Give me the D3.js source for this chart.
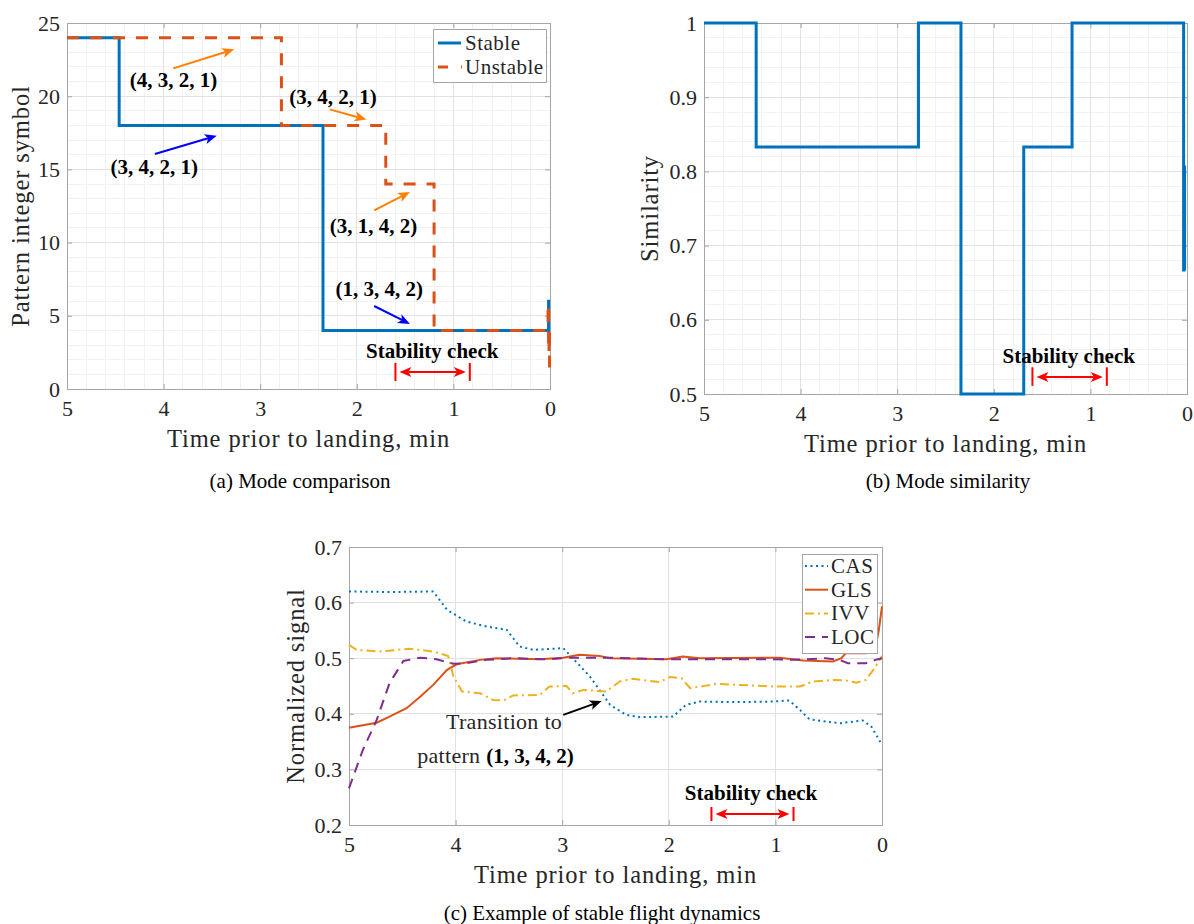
<!DOCTYPE html>
<html>
<head>
<meta charset="utf-8">
<title>Mode comparison</title>
<script src="https://d3js.org/d3.v7.min.js"></script>
<style>
  body { margin: 0; background: #fff; }
  svg text { font-family: "Liberation Serif", "Times New Roman", serif; fill: #262626; }
  .tick text { font-size: 22px; fill: #262626; }
  .lbl { font-size: 24.5px; letter-spacing: 0.9px; }
  .cap { font-size: 21px; fill: #000; }
  .bold { font-weight: bold; font-size: 21px; fill: #000; }
  .leg { font-size: 21px; letter-spacing: 0.5px; }
</style>
</head>
<body>
<script>
// ---------- data ----------
var timeTicks = [5, 4, 3, 2, 1, 0];
var patternTicks = [0, 5, 10, 15, 20, 25];
var simTicks = [0.5, 0.6, 0.7, 0.8, 0.9, 1];
var signalTicks = [0.2, 0.3, 0.4, 0.5, 0.6, 0.7];

// (a) pattern integer symbol, step changes (time prior to landing, min)
var stableT = [5, 4.46, 2.35, 0.015, 0];
var stableV = [24, 18, 4, 6, 6];
var unstableT = [5, 2.78, 1.70, 1.20, 0.02, 0.015, 0.01, 0.005];
var unstableV = [24, 18, 14, 4, 5.8, 2.5, 4, 1];

// (b) similarity
var simT = [5, 4.46, 2.78, 2.34, 1.69, 1.19, 0.035, 0.03, 0.025];
var simV = [1, 0.833, 1, 0.5, 0.833, 1, 0.667, 0.806, 0.667];

// (c) normalized signals
var casT = [5, 4.6, 4.21, 4.08, 3.90, 3.71, 3.52, 3.40, 3.27, 2.99, 2.93, 2.74, 2.55, 2.40, 2.27, 1.96, 1.84, 1.71, 1.40, 1.02, 0.87, 0.77, 0.68, 0.40, 0.18, 0.10, 0];
var casV = [0.62, 0.619, 0.62, 0.587, 0.566, 0.557, 0.551, 0.521, 0.515, 0.518, 0.506, 0.467, 0.416, 0.398, 0.394, 0.395, 0.416, 0.422, 0.421, 0.422, 0.424, 0.407, 0.390, 0.383, 0.388, 0.377, 0.344];
var glsT = [5, 4.74, 4.62, 4.46, 4.33, 4.21, 4.08, 3.99, 3.77, 3.62, 3.21, 2.99, 2.84, 2.65, 2.55, 2.02, 1.87, 1.71, 0.96, 0.74, 0.46, 0.38, 0.34, 0.15, 0.07, 0.03, 0];
var glsV = [0.375, 0.384, 0.395, 0.410, 0.431, 0.452, 0.479, 0.489, 0.497, 0.500, 0.498, 0.501, 0.506, 0.504, 0.500, 0.498, 0.503, 0.500, 0.501, 0.496, 0.494, 0.500, 0.509, 0.509, 0.512, 0.55, 0.593];
var ivvT = [5, 4.93, 4.72, 4.43, 4.21, 4.07, 4.02, 3.94, 3.77, 3.65, 3.55, 3.46, 3.21, 3.12, 2.96, 2.90, 2.80, 2.59, 2.46, 2.34, 2.09, 1.99, 1.88, 1.80, 1.55, 1.24, 0.99, 0.77, 0.65, 0.46, 0.34, 0.24, 0.15, 0.07, 0];
var ivvV = [0.524, 0.515, 0.512, 0.517, 0.512, 0.504, 0.467, 0.440, 0.437, 0.425, 0.424, 0.433, 0.434, 0.449, 0.450, 0.437, 0.443, 0.440, 0.458, 0.463, 0.457, 0.466, 0.464, 0.446, 0.454, 0.451, 0.449, 0.449, 0.458, 0.461, 0.460, 0.456, 0.461, 0.482, 0.504];
var locT = [5, 4.87, 4.74, 4.62, 4.49, 4.33, 4.18, 4.02, 3.90, 3.71, 3.46, 3.15, 2.93, 2.55, 2.02, 1.71, 1.02, 0.84, 0.53, 0.40, 0.32, 0.15, 0.06, 0];
var locV = [0.266, 0.335, 0.389, 0.455, 0.495, 0.501, 0.498, 0.490, 0.491, 0.497, 0.500, 0.498, 0.501, 0.501, 0.498, 0.498, 0.498, 0.497, 0.500, 0.497, 0.491, 0.491, 0.497, 0.500];

var stabilityWindow = [1.6, 0.83];

var blue = "#0072BD", orange = "#D95319", yellow = "#EDB120", purple = "#7E2F8E";

function zip(t, v) { return t.map(function(d, i) { return [d, v[i]]; }); }

var svg = d3.select("body").append("svg")
    .attr("width", 1194)
    .attr("height", 924);

// arrow with MATLAB-like 'vback2' heads
function arrow(g, x1, y1, x2, y2, color, both) {
    var a = Math.atan2(y2 - y1, x2 - x1), L = 12, W = 5, N = 3;
    function head(px, py, ang) {
        var c = Math.cos(ang), s = Math.sin(ang);
        var bx = px - L * c, by = py - L * s;
        return "M" + px + "," + py +
            "L" + (bx - W * s) + "," + (by + W * c) +
            "L" + (px - (L - N) * c) + "," + (py - (L - N) * s) +
            "L" + (bx + W * s) + "," + (by - W * c) + "Z";
    }
    var sx = both ? x1 + (L - N) * Math.cos(a) : x1, sy = both ? y1 + (L - N) * Math.sin(a) : y1;
    g.append("line")
        .attr("x1", sx).attr("y1", sy)
        .attr("x2", x2 - (L - N) * Math.cos(a)).attr("y2", y2 - (L - N) * Math.sin(a))
        .attr("stroke", color).attr("stroke-width", 2);
    g.append("path").attr("d", head(x2, y2, a)).attr("fill", color);
    if (both) g.append("path").attr("d", head(x1, y1, a + Math.PI)).attr("fill", color);
}

function panel(o) {
    var g = svg.append("g");
    var x = d3.scaleLinear().domain([5, 0]).range([o.left, o.right]);
    var y = d3.scaleLinear().domain(o.yDomain).range([o.bottom, o.top]);

    if (o.minor) {
        g.append("g").selectAll("line").data(d3.range(0, 5.01, 0.2)).enter().append("line")
            .attr("x1", function(d) { return x(d); }).attr("x2", function(d) { return x(d); })
            .attr("y1", o.top).attr("y2", o.bottom)
            .attr("stroke", "#f2f2f2").attr("shape-rendering", "crispEdges");
        g.append("g").selectAll("line").data(o.yMinor).enter().append("line")
            .attr("y1", function(d) { return y(d); }).attr("y2", function(d) { return y(d); })
            .attr("x1", o.left).attr("x2", o.right)
            .attr("stroke", "#f2f2f2").attr("shape-rendering", "crispEdges");
    }
    g.append("g").selectAll("line").data(timeTicks).enter().append("line")
        .attr("x1", function(d) { return x(d); }).attr("x2", function(d) { return x(d); })
        .attr("y1", o.top).attr("y2", o.bottom)
        .attr("stroke", "#e2e2e2").attr("shape-rendering", "crispEdges");
    g.append("g").selectAll("line").data(o.yTicks).enter().append("line")
        .attr("y1", function(d) { return y(d); }).attr("y2", function(d) { return y(d); })
        .attr("x1", o.left).attr("x2", o.right)
        .attr("stroke", "#e2e2e2").attr("shape-rendering", "crispEdges");

    var ax = g.append("g").attr("class", "axes");
    ax.append("g").attr("transform", "translate(0," + o.bottom + ")")
        .call(d3.axisBottom(x).tickValues(timeTicks).tickSize(-5).tickSizeOuter(0).tickPadding(11).tickFormat(d3.format("d")));
    ax.append("g").attr("transform", "translate(0," + o.top + ")")
        .call(d3.axisTop(x).tickValues(timeTicks).tickSize(-5).tickSizeOuter(0).tickFormat(""));
    ax.append("g").attr("transform", "translate(" + o.left + ",0)")
        .call(d3.axisLeft(y).tickValues(o.yTicks).tickSize(-5).tickSizeOuter(0).tickPadding(7)
            .tickFormat(function(d) { return String(d); }));
    ax.append("g").attr("transform", "translate(" + o.right + ",0)")
        .call(d3.axisRight(y).tickValues(o.yTicks).tickSize(-5).tickSizeOuter(0).tickFormat(""));
    ax.selectAll(".domain").remove();
    ax.selectAll(".tick line").attr("stroke", "#a6a6a6");

    g.append("rect")
        .attr("x", o.left).attr("y", o.top)
        .attr("width", o.right - o.left).attr("height", o.bottom - o.top)
        .attr("fill", "none").attr("stroke", "#a6a6a6").attr("shape-rendering", "crispEdges");

    g.append("text").attr("class", "lbl")
        .attr("x", (o.left + o.right) / 2).attr("y", o.bottom + 58)
        .attr("text-anchor", "middle").text("Time prior to landing, min");
    g.append("text").attr("class", "lbl")
        .attr("transform", "translate(" + o.yLabelX + "," + (o.top + o.bottom) / 2 + ") rotate(-90)")
        .attr("dy", "0.3em")
        .attr("text-anchor", "middle").text(o.yLabel);
    g.append("text").attr("class", "cap")
        .attr("x", o.capX).attr("y", o.capY)
        .attr("text-anchor", "middle").text(o.caption);

    return { g: g, x: x, y: y };
}

function stability(p, textT, textV, arrowV, barLo, barHi) {
    var g = p.g.append("g");
    g.append("text").attr("class", "bold")
        .attr("x", p.x(textT)).attr("y", p.y(textV)).text("Stability check");
    arrow(g, p.x(stabilityWindow[0]) + 4, p.y(arrowV), p.x(stabilityWindow[1]) - 4, p.y(arrowV), "#ff0000", true);
    stabilityWindow.forEach(function(t) {
        g.append("line")
            .attr("x1", p.x(t)).attr("x2", p.x(t))
            .attr("y1", p.y(barLo)).attr("y2", p.y(barHi))
            .attr("stroke", "#ff0000").attr("stroke-width", 2);
    });
}

// ---------- (a) Mode comparison ----------
var pa = panel({
    left: 67, right: 550, top: 23, bottom: 389,
    yDomain: [0, 25], yTicks: patternTicks, yMinor: d3.range(0, 25.1, 1), minor: true,
    yLabel: "Pattern integer symbol", yLabelX: 22,
    caption: "(a) Mode comparison", capX: 300, capY: 488
});
var stepLine = d3.line().curve(d3.curveStepAfter)
    .x(function(d) { return pa.x(d[0]); }).y(function(d) { return pa.y(d[1]); });
pa.g.append("path").datum(zip(stableT, stableV))
    .attr("d", stepLine).attr("fill", "none").attr("stroke", blue).attr("stroke-width", 3);
pa.g.append("path").datum(zip(unstableT, unstableV))
    .attr("d", stepLine).attr("fill", "none").attr("stroke", orange).attr("stroke-width", 3)
    .attr("stroke-dasharray", "12,11");

var labelsA = [
    { text: "(4, 3, 2, 1)", t: 4.35, v: 20.6, a: [3.90, 21.9, 3.27, 23.2], c: "#ff8000" },
    { text: "(3, 4, 2, 1)", t: 2.70, v: 19.5, a: [2.28, 19.1, 1.90, 18.4], c: "#ff8000" },
    { text: "(3, 4, 2, 1)", t: 4.55, v: 14.7, a: [4.09, 16.05, 3.45, 17.3], c: "#0000ff" },
    { text: "(3, 1, 4, 2)", t: 2.28, v: 10.65, a: [1.82, 12.2, 1.45, 13.45], c: "#ff8000" },
    { text: "(1, 3, 4, 2)", t: 2.22, v: 6.35, a: [1.82, 5.67, 1.45, 4.44], c: "#0000ff" }
];
labelsA.forEach(function(d) {
    pa.g.append("text").attr("class", "bold").attr("x", pa.x(d.t)).attr("y", pa.y(d.v)).text(d.text);
    arrow(pa.g, pa.x(d.a[0]), pa.y(d.a[1]), pa.x(d.a[2]), pa.y(d.a[3]), d.c, false);
});
stability(pa, 1.905, 2.1, 1.16, 0.55, 1.78);

// legend (a)
var legA = pa.g.append("g");
legA.append("rect").attr("x", 433).attr("y", 29).attr("width", 113).attr("height", 53)
    .attr("fill", "#fff").attr("stroke", "#a6a6a6").attr("shape-rendering", "crispEdges");
legA.append("line").attr("x1", 438).attr("x2", 461).attr("y1", 43).attr("y2", 43)
    .attr("stroke", blue).attr("stroke-width", 3);
legA.append("line").attr("x1", 438).attr("x2", 462).attr("y1", 67).attr("y2", 67)
    .attr("stroke", orange).attr("stroke-width", 3).attr("stroke-dasharray", "10,13");
legA.append("text").attr("class", "leg").attr("x", 465).attr("y", 50).text("Stable");
legA.append("text").attr("class", "leg").attr("x", 465).attr("y", 74).text("Unstable");

// ---------- (b) Mode similarity ----------
var pb = panel({
    left: 704, right: 1187, top: 23, bottom: 394,
    yDomain: [0.5, 1], yTicks: simTicks, yMinor: d3.range(0.5, 1.001, 0.02), minor: true,
    yLabel: "Similarity", yLabelX: 651,
    caption: "(b) Mode similarity", capX: 948, capY: 488
});
pb.g.append("path").datum(zip(simT, simV))
    .attr("d", d3.line().curve(d3.curveStepAfter)
        .x(function(d) { return pb.x(d[0]); }).y(function(d) { return pb.y(d[1]); }))
    .attr("fill", "none").attr("stroke", blue).attr("stroke-width", 3);
stability(pb, 1.91, 0.542, 0.523, 0.511, 0.536);

// ---------- (c) Example of stable flight dynamics ----------
var pc = panel({
    left: 349, right: 882, top: 547, bottom: 825,
    yDomain: [0.2, 0.7], yTicks: signalTicks, minor: false,
    yLabel: "Normalized signal", yLabelX: 297,
    caption: "(c) Example of stable flight dynamics", capX: 602, capY: 920
});
var series = [
    { name: "CAS", t: casT, v: casV, c: blue, dash: "2,3.5" },
    { name: "GLS", t: glsT, v: glsV, c: orange, dash: null },
    { name: "IVV", t: ivvT, v: ivvV, c: yellow, dash: "9,4,2,4" },
    { name: "LOC", t: locT, v: locV, c: purple, dash: "10,7" }
];
series.forEach(function(s) {
    pc.g.append("path").datum(zip(s.t, s.v))
        .attr("d", d3.line().x(function(d) { return pc.x(d[0]); }).y(function(d) { return pc.y(d[1]); }))
        .attr("fill", "none").attr("stroke", s.c).attr("stroke-width", 2)
        .attr("stroke-dasharray", s.dash);
});

pc.g.append("text").attr("x", pc.x(4.09)).attr("y", pc.y(0.373))
    .style("font-size", "22px").style("letter-spacing", "0.3px").text("Transition to");
var pat = pc.g.append("text").attr("x", pc.x(4.36)).attr("y", pc.y(0.3115))
    .style("font-size", "22px");
pat.append("tspan").style("letter-spacing", "0.3px").text("pattern ");
pat.append("tspan").attr("class", "bold").text("(1,\u00a03,\u00a04,\u00a02)");
arrow(pc.g, pc.x(2.99), pc.y(0.398), pc.x(2.63), pc.y(0.423), "#000", false);
stability(pc, 1.85, 0.245, 0.220, 0.2072, 0.2324);

// legend (c)
var legC = pc.g.append("g");
legC.append("rect").attr("x", 802).attr("y", 554).attr("width", 75).attr("height", 99)
    .attr("fill", "#fff").attr("stroke", "#a6a6a6").attr("shape-rendering", "crispEdges");
series.forEach(function(s, i) {
    var yy = 566 + i * 23.7;
    legC.append("line").attr("x1", 805).attr("x2", 828).attr("y1", yy).attr("y2", yy)
        .attr("stroke", s.c).attr("stroke-width", 2).attr("stroke-dasharray", s.dash);
    legC.append("text").attr("class", "leg").attr("x", 831).attr("y", yy + 7).text(s.name);
});
</script>
</body>
</html>
